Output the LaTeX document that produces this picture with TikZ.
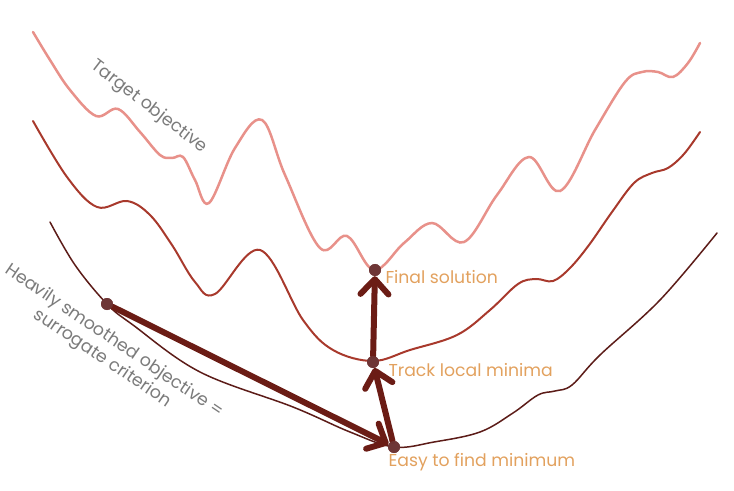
\documentclass[tikz,border=0pt]{standalone}
\usepackage{fontspec}
\setmainfont{Poppins}
\usetikzlibrary{arrows.meta}
\definecolor{targetcol}{HTML}{E8918A}
\definecolor{middlecol}{HTML}{A8392C}
\definecolor{smoothcol}{HTML}{5C1C18}
\definecolor{arrowcol}{HTML}{6B1C15}
\definecolor{dotcol}{HTML}{6E3636}
\definecolor{orangecol}{HTML}{E2A15E}
\definecolor{graycol}{HTML}{7B7B7B}
\begin{document}
\begin{tikzpicture}[x=1bp,y=-1bp,
    move/.style={draw=arrowcol,line width=6bp,line cap=round,
      -{Straight Barb[length=15bp,width=28bp,round]}},
    dot/.style={circle,fill=dotcol,inner sep=0pt,minimum size=12bp},
    orange label/.style={text=orangecol,anchor=west,font=\fontsize{17.3}{20}\selectfont},
    gray label/.style={text=graycol,font=\fontsize{17.5}{21}\selectfont}]
  \useasboundingbox (0,0) rectangle (734,491);
  % the three objectives
  \draw[targetcol,line width=2.5bp,line cap=round] plot[smooth,tension=0.6] coordinates {
    (33,32) (50,60) (70,90) (96,116) (118,109) (140,132) (160,155) (172,158)
    (183,157) (195,180) (209,203) (235,148) (262,120) (285,175) (320,248)
    (347,236) (374,270) (404,243) (432,223) (464,242) (497,195) (529,157)
    (560,191) (595,130) (625,82) (642,72) (658,72) (673,77) (688,63) (700,43)};
  \draw[middlecol,line width=2bp,line cap=round] plot[smooth,tension=0.6] coordinates {
    (33,121) (67,177) (97,207) (127,201) (150,215) (172,245) (195,282) (215,294)
    (260,250) (303,320) (333,350) (373,361) (410,350) (457,335) (490,310)
    (518,284) (536,279) (553,281) (570,268) (589,245) (612,212) (634,183)
    (652,173) (668,168) (684,154) (700,132)};
  \draw[smoothcol,line width=1.5bp,line cap=round] plot[smooth,tension=0.6] coordinates {
    (50,222) (75,265) (107,304) (133,325) (200,372) (293,407) (350,432)
    (394,447) (434,442) (480,432) (513,413) (538,395) (555,391) (572,385)
    (600,355) (660,300) (717,233)};
  % points along the path
  \node[dot] (start) at (107,304) {};
  \node[dot] (easy) at (394,447) {};
  \node[dot] (track) at (373,362) {};
  \node[dot] (final) at (375,270) {};
  \draw[move] (start) -- (easy);
  \draw[move] (easy) -- (track);
  \draw[move] (track) -- (final);
  \node[dot,opacity=0.85] at (start) {};
  \node[dot,opacity=0.85] at (easy) {};
  \node[dot,opacity=0.85] at (track) {};
  \node[dot,opacity=0.85] at (final) {};
  % labels
  \node[orange label] (final label) at (382,277) {Final solution};
  \node[orange label] (track label) at (385,370) {Track local minima};
  \node[orange label] (easy label) at (385,462) {Easy to find minimum};
  \node[gray label,rotate=-37.5] (target label) at (149,107) {Target objective};
  \node[gray label,rotate=-34,align=center] (smooth label) at (108,350)
    {Heavily smoothed objective =\\surrogate criterion};
\end{tikzpicture}
\end{document}
